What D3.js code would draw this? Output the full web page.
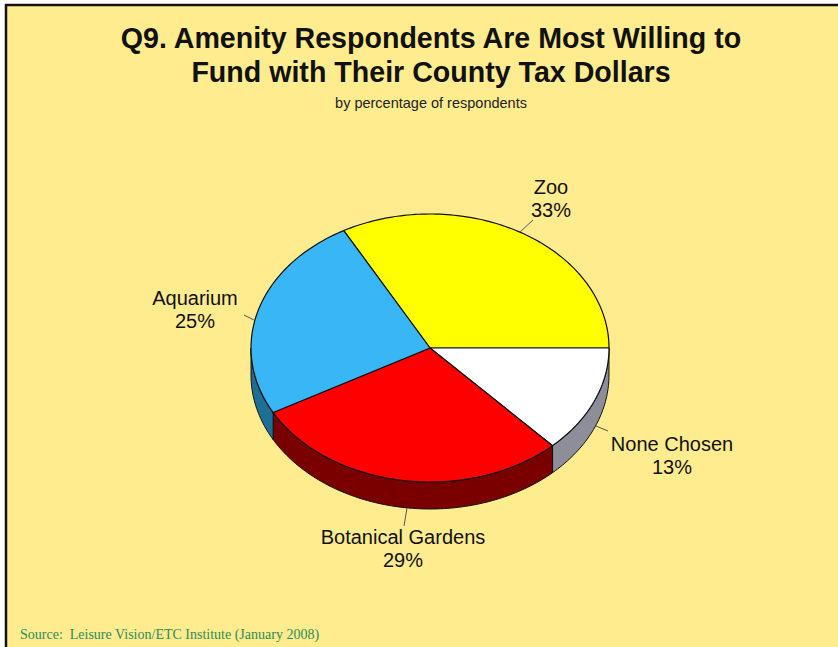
<!DOCTYPE html>
<html>
<head>
<meta charset="utf-8">
<script src="https://cdn.jsdelivr.net/npm/d3@7"></script>
<style>
  html, body { margin: 0; padding: 0; background: #fff; }
  svg { display: block; }
</style>
</head>
<body>
<svg id="chart" width="838" height="647"></svg>
<script>
// Survey answers, clockwise from the Zoo slice
const categories = ["Zoo", "None Chosen", "Botanical Gardens", "Aquarium"];
const percents = [33, 13, 29, 25];
const topColors = ["#FFFF00", "#FFFFFF", "#FF0000", "#38B6F6"];
const sideColors = ["#999900", "#8E8E9A", "#7A0000", "#1E6E96"];

const W = 838, H = 647;
const svg = d3.select("#chart");

// page background and frame
svg.append("rect").attr("x", 0).attr("y", 0).attr("width", W).attr("height", H).attr("fill", "#fff");
svg.append("rect").attr("x", 6).attr("y", 5).attr("width", W).attr("height", H)
  .attr("fill", "#FFEC8E").attr("stroke", "#111").attr("stroke-width", 2.5);

// titles
const title = svg.append("text").attr("text-anchor", "middle")
  .attr("font-family", "Liberation Sans, Arial, sans-serif").attr("font-weight", "bold")
  .attr("font-size", 28.6).attr("fill", "#111");
title.append("tspan").attr("x", 431).attr("y", 48).text("Q9. Amenity Respondents Are Most Willing to");
title.append("tspan").attr("x", 431).attr("y", 82).text("Fund with Their County Tax Dollars");

svg.append("text").attr("x", 431).attr("y", 108).attr("text-anchor", "middle")
  .attr("font-family", "Liberation Sans, Arial, sans-serif").attr("font-size", 14.5)
  .attr("fill", "#222").text("by percentage of respondents");

svg.append("text").attr("x", 20).attr("y", 639)
  .attr("font-family", "Liberation Serif, Times New Roman, serif").attr("font-size", 14)
  .attr("fill", "#2E8B57").attr("xml:space", "preserve")
  .text("Source:  Leisure Vision/ETC Institute (January 2008)");

// tilted pie geometry
const cx = 430, cy = 348, rx = 179, ry = 134, depth = 27;
const data = categories.map((c, i) => ({ name: c, value: percents[i], top: topColors[i], side: sideColors[i] }));
const total = d3.sum(percents);
// Zoo slice ends at 3 o'clock
const start = Math.PI / 2 - 2 * Math.PI * percents[0] / total;
const pie = d3.pie().value(d => d.value).sort(null)
  .startAngle(start).endAngle(start + 2 * Math.PI);
const arcs = pie(data);

const px = a => cx + rx * Math.sin(a);
const py = a => cy - ry * Math.cos(a);

function arcPoints(a0, a1, dy) {
  const n = Math.max(2, Math.ceil(Math.abs(a1 - a0) / 0.02));
  const pts = [];
  for (let k = 0; k <= n; k++) {
    const a = a0 + (a1 - a0) * k / n;
    pts.push([px(a), py(a) + dy]);
  }
  return pts;
}
const line = d3.line();

const g = svg.append("g");

// visible side walls: front half, angles between PI/2 and 3PI/2
arcs.forEach(d => {
  let a0 = d.startAngle, a1 = d.endAngle;
  const shift = Math.floor(a0 / (2 * Math.PI)) * 2 * Math.PI;
  a0 -= shift; a1 -= shift;
  const s = Math.max(a0, Math.PI / 2), e = Math.min(a1, 3 * Math.PI / 2);
  if (e > s) {
    const top = arcPoints(s, e, 0);
    const bot = arcPoints(e, s, depth);
    g.append("path").attr("d", line(top.concat(bot)) + "Z")
      .attr("fill", d.data.side).attr("stroke", "#111").attr("stroke-width", 1)
      .attr("stroke-linejoin", "round");
  }
});

// top faces
arcs.forEach(d => {
  const pts = [[cx, cy]].concat(arcPoints(d.startAngle, d.endAngle, 0));
  g.append("path").attr("d", line(pts) + "Z")
    .attr("fill", d.data.top).attr("stroke", "#111").attr("stroke-width", 1.2)
    .attr("stroke-linejoin", "round");
});

// labels with short leader lines
const labelPos = {
  "Zoo": { x: 551, y: 194, l: [[533, 220], [520, 232]] },
  "None Chosen": { x: 672, y: 451, l: [[608, 431], [596, 426]] },
  "Botanical Gardens": { x: 403, y: 544, l: [[407, 508], [404, 526]] },
  "Aquarium": { x: 195, y: 305, l: [[244, 315], [254, 320]] }
};
arcs.forEach(d => {
  const p = labelPos[d.data.name];
  svg.append("path").attr("d", line(p.l)).attr("stroke", "#555").attr("stroke-width", 1).attr("fill", "none");
  const t = svg.append("text").attr("text-anchor", "middle")
    .attr("font-family", "Liberation Sans, Arial, sans-serif").attr("font-size", 20).attr("fill", "#111");
  t.append("tspan").attr("x", p.x).attr("y", p.y).text(d.data.name);
  t.append("tspan").attr("x", p.x).attr("y", p.y + 23).text(d.data.value + "%");
});
</script>
</body>
</html>
